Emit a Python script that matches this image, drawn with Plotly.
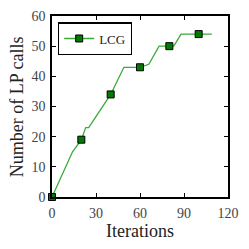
import plotly.graph_objects as go

# breakpoints of the LCG curve (iteration, LP calls)
line_iter = [0, 14, 20, 23, 25, 33, 40, 49, 60, 66, 73, 80, 83, 88, 100, 109]
line_calls = [0, 15, 19, 23, 23, 29, 34, 43, 43, 44, 50, 50, 50, 54, 54, 54]
# marker positions
mark_iter = [0, 20, 40, 60, 80, 100]
mark_calls = [0, 19, 34, 43, 50, 54]

x_ticks = [0, 30, 60, 90, 120]
y_ticks = [0, 10, 20, 30, 40, 50, 60]

FONT = "Liberation Serif"
LINE_COLOR = "#3aaa3a"
MARK_COLOR = "#007a00"

fig = go.Figure()
fig.add_trace(go.Scatter(x=line_iter, y=line_calls, mode="lines",
                         line=dict(color=LINE_COLOR, width=1.3),
                         showlegend=False, hoverinfo="skip", cliponaxis=False))
fig.add_trace(go.Scatter(x=mark_iter, y=mark_calls, mode="markers",
                         marker=dict(symbol="square", size=7, color=MARK_COLOR,
                                     line=dict(color="black", width=1)),
                         showlegend=False, cliponaxis=False))
# legend entry
fig.add_trace(go.Scatter(x=[None], y=[None], mode="lines+markers", name="LCG",
                         line=dict(color=LINE_COLOR, width=1.3),
                         marker=dict(symbol="square", size=7, color=MARK_COLOR,
                                     line=dict(color="black", width=1))))

axis_common = dict(showline=True, linecolor="black", linewidth=1.5, mirror="ticks",
                   ticks="inside", ticklen=4, tickwidth=1, tickcolor="black",
                   showgrid=False, zeroline=False, automargin=False,
                   tickfont=dict(family=FONT, size=14, color="#444"))

# the page body adds an 8px margin, so the figure is 241x241 and shifted
fig.update_layout(
    width=241, height=241,
    margin=dict(l=44, r=21, t=8, b=52, autoexpand=False),
    plot_bgcolor="white", paper_bgcolor="white",
    font=dict(family=FONT, color="#222"),
    xaxis=dict(range=[0, 120], tickvals=x_ticks, ticklabelstandoff=2, **axis_common),
    yaxis=dict(range=[0, 60], tickvals=y_ticks, ticklabelstandoff=2, **axis_common),
    legend=dict(x=0.034, y=0.965, xanchor="left", yanchor="top",
                bordercolor="black", borderwidth=1.2, bgcolor="white",
                font=dict(family=FONT, size=13), itemwidth=30,
                tracegroupgap=0),
    annotations=[
        dict(text="Iterations", xref="paper", yref="paper", x=0.5, y=-0.19,
             xanchor="center", yanchor="middle", showarrow=False,
             font=dict(family=FONT, size=18, color="#222")),
        dict(text="Number of LP calls", xref="paper", yref="paper", x=-0.2, y=0.5,
             xanchor="center", yanchor="middle", showarrow=False, textangle=-90,
             font=dict(family=FONT, size=18, color="#222")),
    ],
)

fig.write_html("out.html")
